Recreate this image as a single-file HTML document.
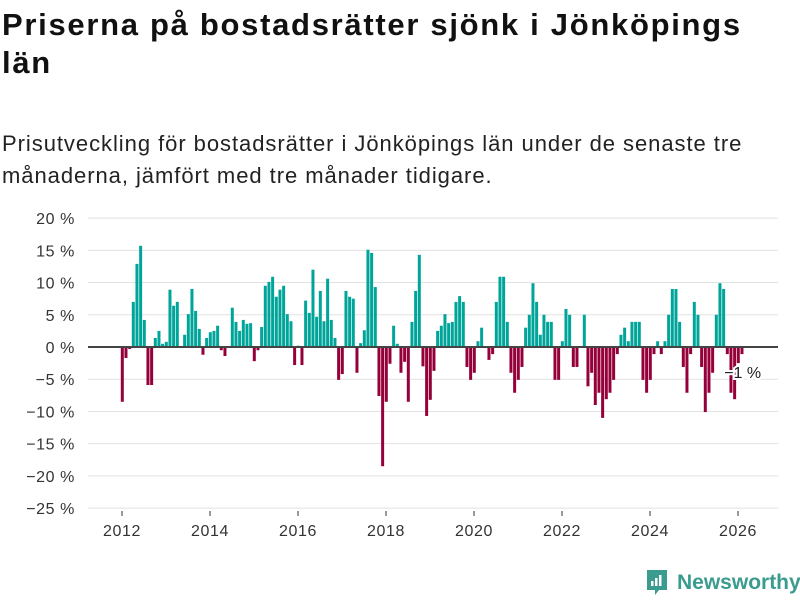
<!DOCTYPE html>
<html><head><meta charset="utf-8"><style>
body{margin:0;width:800px;height:600px;background:#fff;font-family:"Liberation Sans",sans-serif;overflow:hidden;position:relative}
h1{position:absolute;left:2px;top:6px;margin:0;font-size:31px;line-height:38px;font-weight:bold;color:#111;width:800px;letter-spacing:1.7px;white-space:nowrap}
.sub{position:absolute;left:2px;top:128px;margin:0;font-size:22px;line-height:32px;color:#222;width:800px;letter-spacing:0.95px;white-space:nowrap}
svg{position:absolute;left:0;top:0}
</style></head><body>
<h1>Priserna på bostadsrätter sjönk i Jönköpings<br>län</h1>
<p class="sub">Prisutveckling för bostadsrätter i Jönköpings län under de senaste tre<br>månaderna, jämfört med tre månader tidigare.</p>
<svg id="chart" width="800" height="600"></svg>
<script>
const startYear = 2012;
const values = [-8.5,-1.7,-0.3,7.0,12.9,15.7,4.2,-5.9,-5.9,1.4,2.5,0.5,0.8,8.9,6.4,7.0,0,1.9,5.1,9.0,5.6,2.8,-1.2,1.4,2.3,2.5,3.3,-0.5,-1.4,0,6.1,3.9,2.5,4.2,3.6,3.7,-2.2,-0.5,3.1,9.5,10.1,10.9,7.8,8.9,9.5,5.1,4.0,-2.8,0.2,-2.8,7.2,5.3,12.0,4.7,8.7,4.0,10.6,4.2,1.4,-5.1,-4.2,8.7,7.8,7.5,-4.0,0.6,2.6,15.1,14.6,9.3,-7.6,-18.5,-8.5,-2.6,3.3,0.5,-4.0,-2.3,-8.5,3.9,8.7,14.3,-3.0,-10.7,-8.2,-3.7,2.5,3.3,5.1,3.7,3.9,7.0,7.9,7.0,-3.1,-5.1,-4.0,0.9,3.0,0,-2.0,-1.1,7.0,10.9,10.9,3.9,-4.0,-7.1,-5.1,-3.1,3.0,5.0,9.9,7.0,1.9,5.0,3.9,3.9,-5.1,-5.1,0.9,5.9,5.0,-3.1,-3.1,0,5.0,-6.1,-4.0,-9.0,-7.1,-11.0,-8.1,-7.1,-5.1,-1.1,1.9,3.0,0.9,3.9,3.9,3.9,-5.1,-7.1,-5.1,-1.1,0.9,-1.1,0.9,5.0,9.0,9.0,3.9,-3.1,-7.1,-1.1,7.0,5.0,-3.1,-10.1,-7.1,-4.0,5.0,9.9,9.0,-1.1,-7.1,-8.1,-2.5,-1.1];
const yTicks = [20,15,10,5,0,-5,-10,-15,-20,-25];
const xTicks = [2012,2014,2016,2018,2020,2022,2024,2026];
const lastLabel = "−1 %";
const NS="http://www.w3.org/2000/svg";
const svg=document.getElementById('chart');
const yS=v=>347-v*6.444;
const xS=t=>122+(t-startYear)*44;
function mk(tag,attrs,parent){const e=document.createElementNS(NS,tag);for(const k in attrs)e.setAttribute(k,attrs[k]);(parent||svg).appendChild(e);return e;}
yTicks.forEach(v=>{
  const g=mk('line',{x1:88,x2:778,y1:yS(v),y2:yS(v),stroke:'#e2e2e2','stroke-width':1});
  
  
  const t=mk('text',{x:75,y:yS(v)+6,'text-anchor':'end','font-size':16,'letter-spacing':0.6,fill:'#333','font-family':'Liberation Sans, sans-serif'});
  t.textContent=(v<0?'−'+(-v):v)+' %';
  
  
});
xTicks.forEach(y=>{
  const l=mk('line',{x1:xS(y),x2:xS(y),y1:511,y2:516,stroke:'#333'});
  
  
  const t=mk('text',{x:xS(y),y:536,'text-anchor':'middle','font-size':16,'letter-spacing':0.6,fill:'#333','font-family':'Liberation Sans, sans-serif'});
  t.textContent=y;
  
  
});
values.forEach((v,i)=>{
  const x=xS(startYear+i/12);
  const r=mk('rect',{x:x-1.2,width:3,y:Math.min(yS(v),yS(0)),height:Math.abs(yS(v)-yS(0)),fill:v>=0?'#00a59a':'#95003a'});
  
  
});
const z=mk('line',{x1:88,x2:778,y1:yS(0),y2:yS(0),stroke:'#444','stroke-width':2});


const lt=mk('text',{x:xS(startYear+(values.length-1)/12)+1,y:378,'text-anchor':'middle','font-size':16,fill:'#222',stroke:'#fff','stroke-width':4,'paint-order':'stroke','font-family':'Liberation Sans, sans-serif'});
lt.textContent=lastLabel;


</script>
<div style="position:absolute;left:645px;top:568px;height:30px;display:flex;align-items:center">
<svg width="24" height="30" viewBox="0 0 24 30" style="position:static"><path d="M2 2h20v20H14l-4 5v-5H2z" fill="#3a9b8f"/><rect x="6" y="13" width="2.5" height="5" fill="#fff"/><rect x="10" y="10" width="2.5" height="8" fill="#fff"/><rect x="14" y="7" width="2.5" height="11" fill="#fff"/></svg>
<span style="margin-left:8px;font-size:21px;font-weight:bold;color:#3a9b8f">Newsworthy</span>
</div>
</body></html>
